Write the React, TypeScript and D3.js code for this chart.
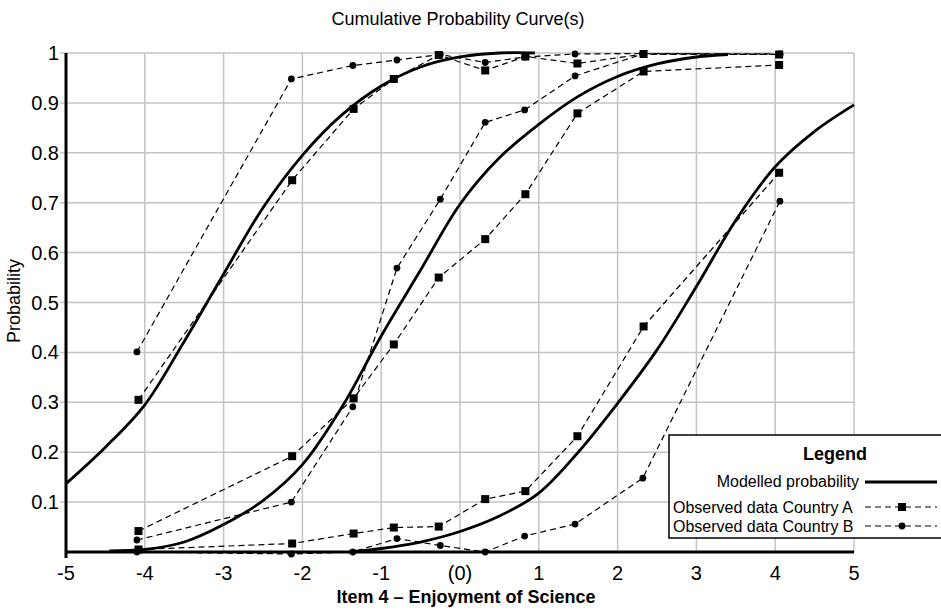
import React, { useEffect, useRef } from 'react';
import * as d3 from 'd3';

/* ── data ── */
const xTicks = [-5, -4, -3, -2, -1, 0, 1, 2, 3, 4, 5];
const xTickLabels = ['-5', '-4', '-3', '-2', '-1', '(0)', '1', '2', '3', '4', '5'];
const yTicks = [0.1, 0.2, 0.3, 0.4, 0.5, 0.6, 0.7, 0.8, 0.9, 1];
const yTickLabels = ['0.1', '0.2', '0.3', '0.4', '0.5', '0.6', '0.7', '0.8', '0.9', '1'];

// modelled cumulative probability curves [theta, p]
const model1: [number, number][] = [
  [-5, 0.137], [-4.5, 0.21], [-4, 0.295], [-3.5, 0.422], [-3, 0.557], [-2.5, 0.69],
  [-2, 0.795], [-1.5, 0.876], [-1, 0.934], [-0.5, 0.972], [0, 0.992], [0.5, 1.0], [0.95, 1.0]
];
const model2: [number, number][] = [
  [-4.45, 0.002], [-4, 0.005], [-3.5, 0.02], [-3, 0.055], [-2.5, 0.103], [-2, 0.175],
  [-1.5, 0.29], [-1, 0.433], [-0.5, 0.565], [0, 0.697], [0.5, 0.79], [1, 0.857],
  [1.5, 0.913], [2, 0.953], [2.5, 0.978], [3, 0.992], [3.4, 0.997]
];
const model3: [number, number][] = [
  [-1.4, 0.0], [-1, 0.007], [-0.5, 0.02], [0, 0.041], [0.5, 0.072], [1, 0.118],
  [1.5, 0.2], [2, 0.298], [2.5, 0.405], [3, 0.532], [3.5, 0.665], [4, 0.772],
  [4.5, 0.843], [5, 0.896]
];

// observed group locations and proportions
const countryAX = [-4.08, -2.13, -1.35, -0.84, -0.27, 0.32, 0.83, 1.49, 2.33, 4.05];
const countryA1 = [0.305, 0.745, 0.888, 0.948, 0.996, 0.965, 0.993, 0.979, 0.998, 0.997];
const countryA2 = [0.042, 0.192, 0.308, 0.416, 0.55, 0.627, 0.717, 0.879, 0.963, 0.976];
const countryA3 = [0.005, 0.017, 0.037, 0.049, 0.051, 0.106, 0.122, 0.232, 0.452, 0.76];

const countryBX = [-4.1, -2.14, -1.36, -0.8, -0.25, 0.32, 0.82, 1.46, 2.32, 4.06];
const countryB1 = [0.401, 0.948, 0.975, 0.986, 0.997, 0.981, 0.992, 0.998, 0.999, 0.998];
const countryB2 = [0.024, 0.1, 0.291, 0.569, 0.707, 0.861, 0.886, 0.954, 0.998, 0.997];
const countryB3 = [0.0, -0.004, 0.0, 0.027, 0.013, 0.0, 0.032, 0.056, 0.148, 0.703];

const legendLabels = ['Modelled probability', 'Observed data Country A', 'Observed data Country B'];

const W = 941, H = 610;
const font = 'Liberation Sans, Arial, Helvetica, sans-serif';

export default function App() {
  const ref = useRef<SVGSVGElement>(null);

  useEffect(() => {
    const svg = d3.select(ref.current);
    svg.selectAll('*').remove();

    const x = d3.scaleLinear().domain([-5, 5]).range([66, 854]);
    const y = d3.scaleLinear().domain([0, 1]).range([552, 53]);
    const grid = '#c4c4c4';

    /* grid */
    svg.append('g').selectAll('line')
      .data(xTicks.slice(1))
      .join('line')
      .attr('x1', d => x(d)).attr('x2', d => x(d))
      .attr('y1', y(1)).attr('y2', y(0))
      .attr('stroke', grid).attr('stroke-width', 1.5);

    svg.append('g').selectAll('line')
      .data(yTicks)
      .join('line')
      .attr('x1', x(-5) - 6).attr('x2', x(5))
      .attr('y1', d => y(d)).attr('y2', d => y(d))
      .attr('stroke', grid).attr('stroke-width', 1.5);

    /* tick labels */
    svg.append('g').selectAll('text')
      .data(yTicks)
      .join('text')
      .attr('x', x(-5) - 7)
      .attr('y', d => y(d) + 7)
      .attr('text-anchor', 'end')
      .attr('font-size', 20)
      .attr('font-family', font)
      .text((_, i) => yTickLabels[i]);

    svg.append('g').selectAll('text')
      .data(xTicks)
      .join('text')
      .attr('x', d => x(d))
      .attr('y', 580)
      .attr('text-anchor', 'middle')
      .attr('font-size', 20)
      .attr('font-family', font)
      .text((_, i) => xTickLabels[i]);

    /* modelled curves */
    const curve = d3.line<[number, number]>()
      .x(d => x(d[0]))
      .y(d => y(d[1]))
      .curve(d3.curveCatmullRom.alpha(0.5));

    [model1, model2, model3].forEach(m => {
      svg.append('path')
        .datum(m)
        .attr('fill', 'none')
        .attr('stroke', '#000')
        .attr('stroke-width', 2.8)
        .attr('d', curve);
    });

    /* observed data */
    const obs = (xs: number[], ps: number[], shape: 'square' | 'circle') => {
      const pts = xs.map((v, i) => [v, ps[i]] as [number, number]);
      svg.append('path')
        .datum(pts)
        .attr('fill', 'none')
        .attr('stroke', '#000')
        .attr('stroke-width', 1.2)
        .attr('stroke-dasharray', '6,4')
        .attr('d', d3.line<[number, number]>().x(d => x(d[0])).y(d => y(d[1])));
      if (shape === 'square') {
        svg.append('g').selectAll('rect')
          .data(pts)
          .join('rect')
          .attr('x', d => x(d[0]) - 4)
          .attr('y', d => y(d[1]) - 4)
          .attr('width', 8).attr('height', 8)
          .attr('fill', '#000');
      } else {
        svg.append('g').selectAll('circle')
          .data(pts)
          .join('circle')
          .attr('cx', d => x(d[0]))
          .attr('cy', d => y(d[1]))
          .attr('r', 3.4)
          .attr('fill', '#000');
      }
    };
    obs(countryBX, countryB1, 'circle');
    obs(countryBX, countryB2, 'circle');
    obs(countryBX, countryB3, 'circle');
    obs(countryAX, countryA1, 'square');
    obs(countryAX, countryA2, 'square');
    obs(countryAX, countryA3, 'square');

    /* axes */
    svg.append('line')
      .attr('x1', x(-5)).attr('x2', x(-5))
      .attr('y1', y(1)).attr('y2', y(0) + 6)
      .attr('stroke', '#000').attr('stroke-width', 3);
    svg.append('line')
      .attr('x1', x(-5)).attr('x2', x(5))
      .attr('y1', y(0)).attr('y2', y(0))
      .attr('stroke', '#000').attr('stroke-width', 3);

    /* titles */
    svg.append('text')
      .attr('x', 458).attr('y', 25)
      .attr('text-anchor', 'middle')
      .attr('font-size', 18)
      .attr('font-family', font)
      .text('Cumulative Probability Curve(s)');

    svg.append('text')
      .attr('transform', 'translate(20,301) rotate(-90)')
      .attr('text-anchor', 'middle')
      .attr('font-size', 18)
      .attr('font-family', font)
      .text('Probability');

    svg.append('text')
      .attr('x', 466).attr('y', 603)
      .attr('text-anchor', 'middle')
      .attr('font-size', 18)
      .attr('font-weight', 'bold')
      .attr('font-family', font)
      .text('Item 4 – Enjoyment of Science');

    /* legend */
    const lg = svg.append('g');
    lg.append('rect')
      .attr('x', 669).attr('y', 435)
      .attr('width', 300).attr('height', 103)
      .attr('fill', '#fff')
      .attr('stroke', '#000').attr('stroke-width', 1.5);
    lg.append('text')
      .attr('x', 835).attr('y', 460)
      .attr('text-anchor', 'middle')
      .attr('font-size', 18).attr('font-weight', 'bold')
      .attr('font-family', font)
      .text('Legend');

    const rows = [487, 513, 532];
    lg.append('text')
      .attr('x', 859).attr('y', rows[0])
      .attr('text-anchor', 'end')
      .attr('font-size', 16).attr('font-family', font)
      .text(legendLabels[0]);
    lg.append('line')
      .attr('x1', 865).attr('x2', 937)
      .attr('y1', rows[0] - 5).attr('y2', rows[0] - 5)
      .attr('stroke', '#000').attr('stroke-width', 2.8);

    [1, 2].forEach(i => {
      const ly = rows[i] - 6;
      lg.append('text')
        .attr('x', 673).attr('y', rows[i])
        .attr('font-size', 16).attr('font-family', font)
        .text(legendLabels[i]);
      lg.append('line')
        .attr('x1', 865).attr('x2', 937)
        .attr('y1', ly).attr('y2', ly)
        .attr('stroke', '#000').attr('stroke-width', 1.2)
        .attr('stroke-dasharray', '6,4');
      if (i === 1) {
        lg.append('rect')
          .attr('x', 898).attr('y', ly - 4)
          .attr('width', 8).attr('height', 8)
          .attr('fill', '#000');
      } else {
        lg.append('circle')
          .attr('cx', 902).attr('cy', ly)
          .attr('r', 3.4)
          .attr('fill', '#000');
      }
    });
  }, []);

  return (
    <svg
      ref={ref}
      width={W}
      height={H}
      style={{ position: 'absolute', left: 0, top: 0, background: '#fff' }}
    />
  );
}
